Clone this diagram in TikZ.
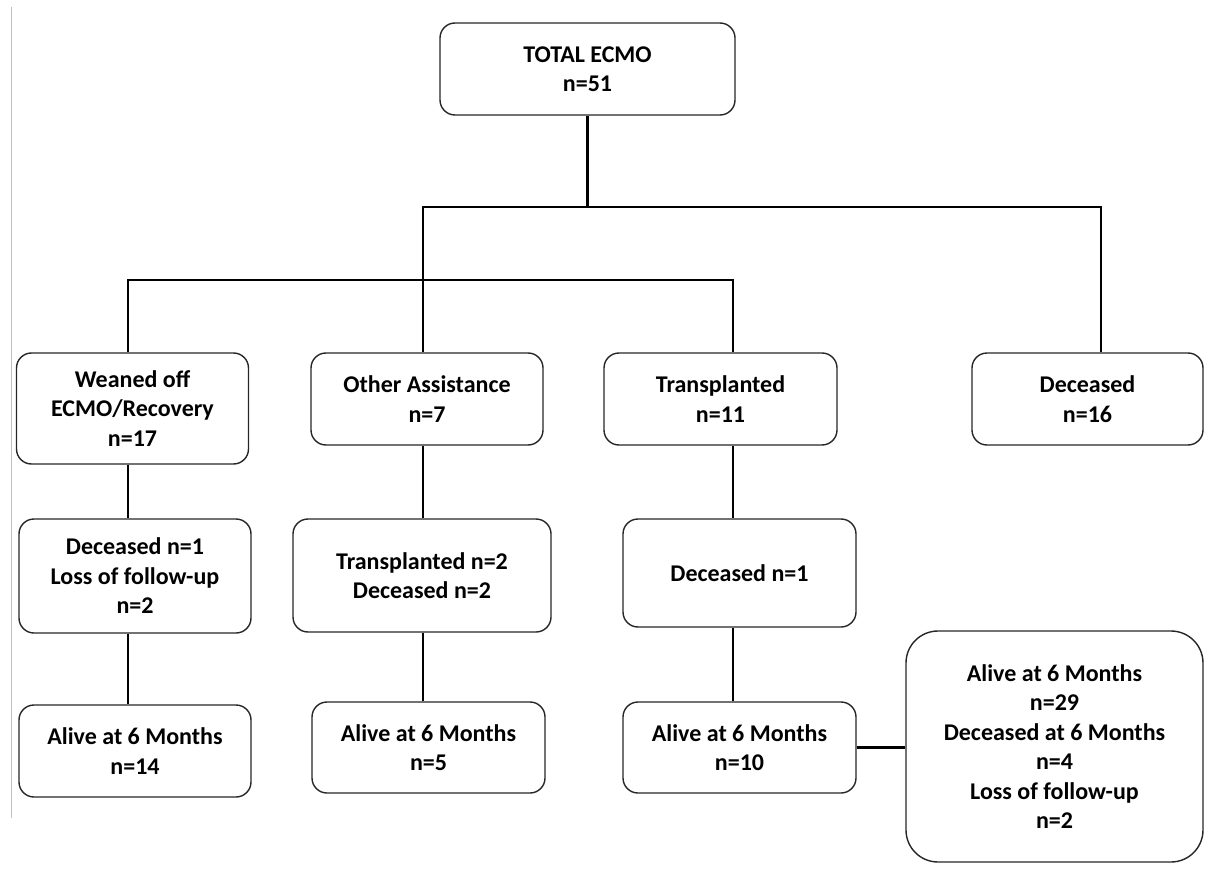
\documentclass[tikz,border=0pt]{standalone}
\usepackage{fontspec}
\setmainfont{Carlito}

\begin{document}
\begin{tikzpicture}[x=1pt,y=-1pt,
    box/.style={draw=black!85,line width=1.4pt,rounded corners=15pt,align=center,inner sep=0pt,
        minimum width=232,minimum height=92,font=\fontsize{24}{29.5}\selectfont\bfseries},
    link/.style={line width=2.5pt}]
    \useasboundingbox(0,0)rectangle(1205,869);
    \draw[black!25,line width=1pt](11,7)--(11,818);

    \node[box,minimum width=295](total)at(587.5,69){TOTAL ECMO\\n=51};

    \node[box,minimum height=111](wean)at(132.5,408.5){Weaned off\\ECMO/Recovery\\n=17};
    \node[box](other)at(427,399){Other Assistance\\n=7};
    \node[box,minimum width=233](trans)at(720.5,399){Transplanted\\n=11};
    \node[box,minimum width=231](dec)at(1087.5,399){Deceased\\n=16};

    \node[box,minimum height=114](wdec)at(135,576){Deceased n=1\\Loss of follow-up\\n=2};
    \node[box,minimum width=258,minimum height=113](otr)at(422,575.5){Transplanted n=2\\Deceased n=2};
    \node[box,minimum width=233,minimum height=108](tdec)at(739.5,573){Deceased n=1};

    \node[box](walive)at(135,751){Alive at 6 Months\\n=14};
    \node[box,minimum width=233,minimum height=91](oalive)at(428.5,747.5){Alive at 6 Months\\n=5};
    \node[box,minimum width=233,minimum height=91](talive)at(739.5,747.5){Alive at 6 Months\\n=10};
    \node[box,rounded corners=32pt,minimum width=297,minimum height=231](all)at(1054.5,746.5)
        {Alive at 6 Months\\n=29\\Deceased at 6 Months\\n=4\\Loss of follow-up\\n=2};

    \coordinate(bar1l)at(423,207);
    \coordinate(bar1r)at(1101,207);
    \coordinate(bar2l)at(128,280);
    \coordinate(bar2r)at(733,280);

    \draw[link](total.south)--(total.south|-bar1l);
    \draw[link](other.north-|bar1l)--(bar1l)--(bar1r)--(dec.north-|bar1r);
    \draw[link](wean.north-|bar2l)--(bar2l)--(bar2r)--(trans.north-|bar2r);

    \draw[link](wean.south-|bar2l)--(wdec.north-|bar2l);
    \draw[link](wdec.south-|bar2l)--(walive.north-|bar2l);
    \draw[link](other.south-|bar1l)--(otr.north-|bar1l);
    \draw[link](otr.south-|bar1l)--(oalive.north-|bar1l);
    \draw[link](trans.south-|bar2r)--(tdec.north-|bar2r);
    \draw[link](tdec.south-|bar2r)--(talive.north-|bar2r);
    \draw[link](talive.east)--(talive.east-|all.west);
\end{tikzpicture}
\end{document}
